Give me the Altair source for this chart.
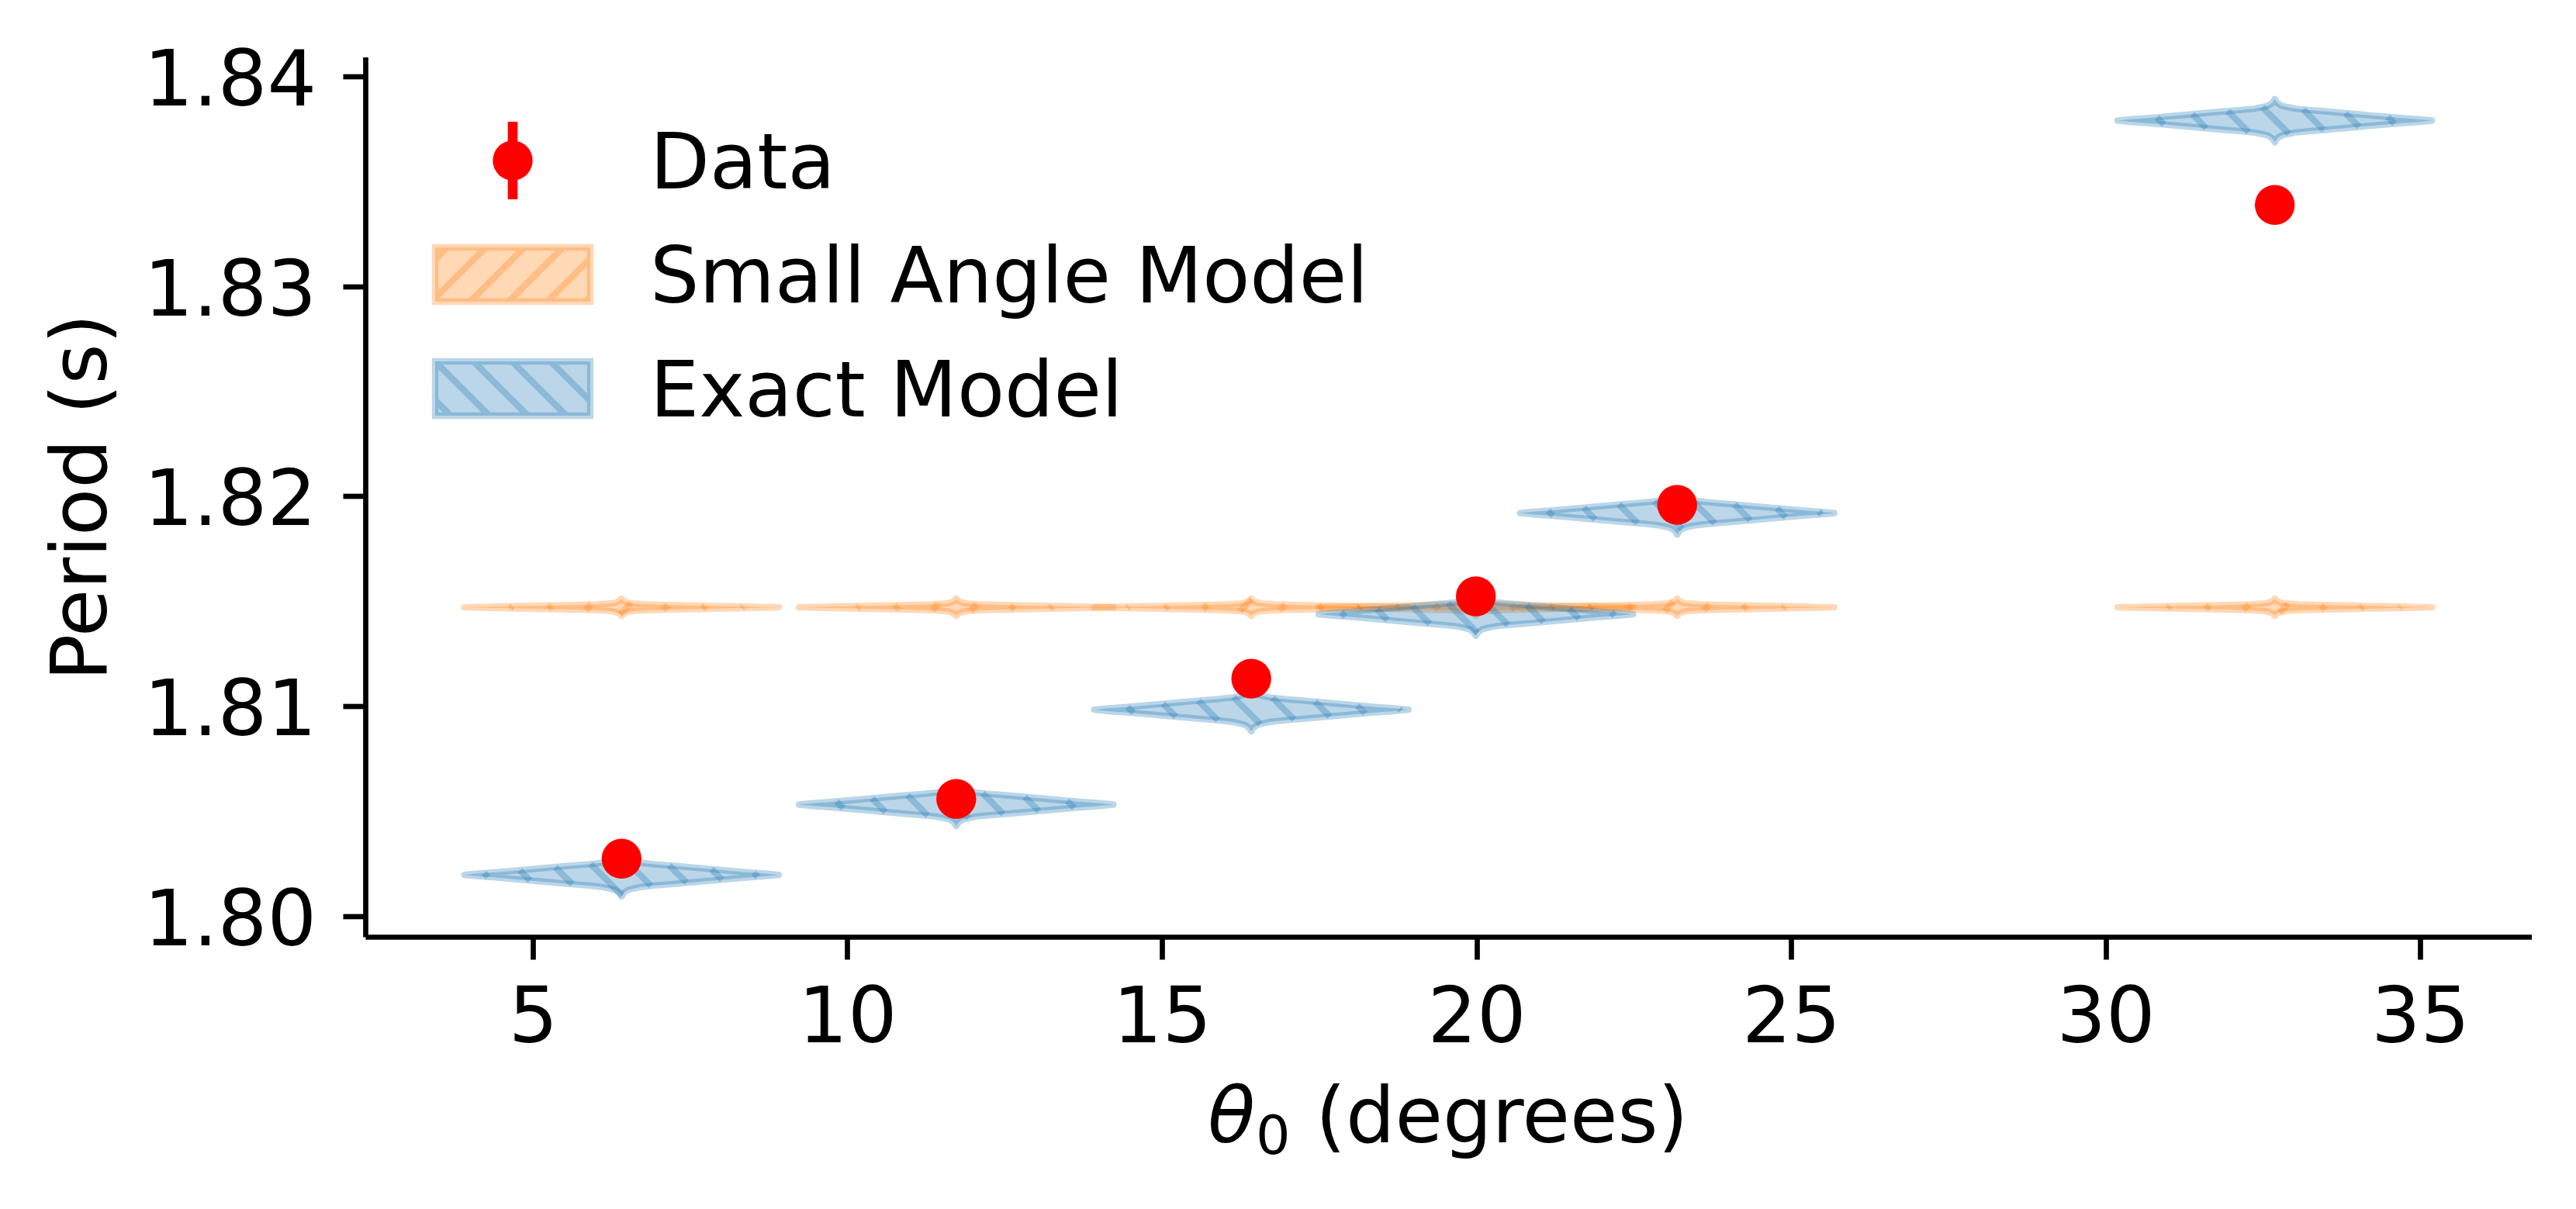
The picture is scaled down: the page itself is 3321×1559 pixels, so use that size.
import altair as alt
import pandas as pd
import numpy as np

# ---------------- data ----------------
theta_deg = [6.41, 11.73, 16.42, 19.99, 23.19, 32.69]
period_data = [1.80273, 1.80558, 1.81131, 1.81523, 1.81959, 1.83388]
exact_center = [1.80196, 1.80531, 1.80983, 1.81438, 1.81920, 1.83790]
small_center = [1.81471, 1.81471, 1.81471, 1.81471, 1.81471, 1.81471]
violin_half_width = 2.5  # degrees (violin width 5)

# violin outlines: horizontal offset (fraction of half-width) -> half-height (s)
exact_prof_dx = [0.0, 0.015, 0.04, 0.075, 0.13, 0.22, 0.345, 0.565, 0.79, 0.91, 1.0]
exact_prof_h = [0.00103, 0.00085, 0.00072, 0.00065, 0.00057, 0.00050, 0.000425,
                0.000277, 0.000129, 0.000067, 0.0]
small_prof_dx = [0.0, 0.015, 0.04, 0.075, 0.15, 0.3, 0.54, 0.79, 1.0]
small_prof_h = [0.000407, 0.000300, 0.000215, 0.000180, 0.000140, 0.000110,
                0.000070, 0.000035, 0.0]

x_ticks = [5, 10, 15, 20, 25, 30, 35]
y_ticks = [1.80, 1.81, 1.82, 1.83, 1.84]
y_title = "Period (s)"
x_title_parts = ["θ", "0", "(degrees)"]
legend_labels = ["Data", "Small Angle Model", "Exact Model"]

# ---------------- layout ----------------
FONT = "DejaVu Sans"
W, H = 2792.5, 1134.5
XDOM = [2.337, 36.769]
YDOM = [1.79901, 1.84093]
X0, Y0 = 471.0, 73.5          # page position of plot origin
PX_DEG = W / (XDOM[1] - XDOM[0])
PX_S = H / (YDOM[1] - YDOM[0])
SP = 49.7                     # hatch spacing (px)
LW = 8.3                      # edge / hatch line width (px)
BLUE = "#1f77b4"
ORANGE = "#ff7f0e"

xs = alt.Scale(domain=XDOM, nice=False, zero=False)
ys = alt.Scale(domain=YDOM, nice=False, zero=False)

x_axis = alt.Axis(values=x_ticks, title=None, grid=False, format="d",
                  domainColor="black", domainWidth=6.7, tickColor="black",
                  tickWidth=6.7, tickSize=29, labelFont=FONT, labelFontSize=100,
                  labelColor="black", labelPadding=106, labelBaseline="alphabetic",
                  labelFlush=False, labelOverlap=False, labelBound=False,
                  labelLimit=1000)
y_axis = alt.Axis(values=y_ticks, title=y_title, grid=False, format=".2f",
                  domainColor="black", domainWidth=6.7, tickColor="black",
                  tickWidth=6.7, tickSize=29, labelFont=FONT, labelFontSize=100,
                  labelColor="black", labelPadding=34.4, labelBaseline="alphabetic",
                  labelOffset=37, labelFlush=False, labelOverlap=False,
                  labelLimit=1000, titleLimit=2000,
                  titleFont=FONT, titleFontSize=100, titleFontWeight="normal",
                  titleColor="black", titleX=-335, titleBaseline="alphabetic")


def violin_table(centers_x, centers_y, prof_dx, prof_h):
    rows = []
    for i, (cx, cy) in enumerate(zip(centers_x, centers_y)):
        pts = [(-d, h) for d, h in zip(prof_dx[::-1], prof_h[::-1]) if d > 0] + \
              list(zip(prof_dx, prof_h))
        for d, h in pts:
            rows.append({"vid": i, "x": cx + d * violin_half_width,
                         "lo": cy - h, "hi": cy + h})
    return pd.DataFrame(rows)


def hatch_table(centers_x, centers_y, prof_dx, prof_h, back, phase):
    hw = violin_half_width * PX_DEG
    dxp = np.array(prof_dx) * hw
    hp = np.array(prof_h) * PX_S

    def h(d):
        return np.interp(np.abs(d), dxp, hp, right=0.0)

    ts = np.linspace(0, 60, 6001)
    rows = []
    for cx, cy in zip(centers_x, centers_y):
        Xc = X0 + (cx - XDOM[0]) * PX_DEG
        Yc = Y0 + (YDOM[1] - cy) * PX_S
        base = (Yc + phase) if back else (phase - Yc)
        k0 = int(np.floor((Xc - hw - base) / SP)) - 1
        k1 = int(np.ceil((Xc + hw - base) / SP)) + 1
        for k in range(k0, k1 + 1):
            Xl = base + SP * k
            if abs(Xl - Xc) >= hw:
                continue
            if back:
                t_up = ts[np.argmax(ts - h(Xl - ts - Xc) >= 0)]
                t_dn = ts[np.argmax(ts - h(Xl + ts - Xc) >= 0)]
                P1 = (Xl - t_up, Yc - t_up)
                P2 = (Xl + t_dn, Yc + t_dn)
            else:
                t_up = ts[np.argmax(ts - h(Xl + ts - Xc) >= 0)]
                t_dn = ts[np.argmax(ts - h(Xl - ts - Xc) >= 0)]
                P1 = (Xl + t_up, Yc - t_up)
                P2 = (Xl - t_dn, Yc + t_dn)
            if t_up + t_dn < 1.5:
                continue
            rows.append({
                "x": XDOM[0] + (P1[0] - X0) / PX_DEG,
                "y": YDOM[1] - (P1[1] - Y0) / PX_S,
                "x2": XDOM[0] + (P2[0] - X0) / PX_DEG,
                "y2": YDOM[1] - (P2[1] - Y0) / PX_S,
            })
    return pd.DataFrame(rows)


def patch_path(Xp, Yp, back, phase):
    s, hy = 100.0, 0.35
    parts = ["M-1,-0.35L1,-0.35L1,0.35L-1,0.35Z"]
    ref = (Xp - Yp) if back else (Xp + Yp)
    kc = int(round((ref - phase) / SP))
    for k in range(kc - 8, kc + 9):
        c = (phase + SP * k - ref) / s
        if back:
            v0, v1 = max(-hy, -1 - c), min(hy, 1 - c)
            if v1 - v0 > 0.02:
                parts.append("M%.4f,%.4fL%.4f,%.4f" % (c + v0, v0, c + v1, v1))
        else:
            v0, v1 = max(-hy, c - 1), min(hy, c + 1)
            if v1 - v0 > 0.02:
                parts.append("M%.4f,%.4fL%.4f,%.4f" % (c - v0, v0, c - v1, v1))
    return "".join(parts)


small_df = violin_table(theta_deg, small_center, small_prof_dx, small_prof_h)
exact_df = violin_table(theta_deg, exact_center, exact_prof_dx, exact_prof_h)
small_hatch = hatch_table(theta_deg, small_center, small_prof_dx, small_prof_h, False, 1.0)
exact_hatch = hatch_table(theta_deg, exact_center, exact_prof_dx, exact_prof_h, True, 45.0)
points_df = pd.DataFrame({"x": theta_deg, "y": period_data})


def violin_layer(df, color):
    return alt.Chart(df).mark_area(
        fill=color, fillOpacity=0.3, stroke=color, strokeOpacity=0.3,
        strokeWidth=LW, strokeJoin="round", opacity=1
    ).encode(
        x=alt.X("x:Q", scale=xs, axis=x_axis),
        y=alt.Y("lo:Q", scale=ys, axis=y_axis),
        y2="hi:Q",
        detail="vid:N",
    )


def hatch_layer(df, color):
    return alt.Chart(df).mark_rule(
        color=color, opacity=0.3, strokeWidth=LW, strokeCap="butt"
    ).encode(
        x=alt.X("x:Q", scale=xs, axis=x_axis),
        y=alt.Y("y:Q", scale=ys, axis=y_axis),
        x2="x2:Q", y2="y2:Q",
    )


points = alt.Chart(points_df).mark_circle(
    color="#ff0000", size=2642, opacity=1
).encode(
    x=alt.X("x:Q", scale=xs, axis=x_axis),
    y=alt.Y("y:Q", scale=ys, axis=y_axis),
)

# ---------------- legend (drawn in pixel space) ----------------
one = pd.DataFrame({"k": [0]})
leg_bar = alt.Chart(one).mark_rule(color="#ff0000", strokeWidth=12.7).encode(
    x=alt.value(190), y=alt.value(83.5), y2=alt.value(183.5))
leg_dot = alt.Chart(one).mark_circle(color="#ff0000", size=2642, opacity=1).encode(
    x=alt.value(190), y=alt.value(133.5))
leg_small = alt.Chart(one).mark_point(
    shape=patch_path(661, 354, False, 1.0), size=40000, filled=True,
    fill=ORANGE, fillOpacity=0.3, stroke=ORANGE, strokeOpacity=0.3,
    strokeWidth=LW, opacity=1
).encode(x=alt.value(190), y=alt.value(280.5))
leg_exact = alt.Chart(one).mark_point(
    shape=patch_path(661, 501, True, 45.0), size=40000, filled=True,
    fill=BLUE, fillOpacity=0.3, stroke=BLUE, strokeOpacity=0.3,
    strokeWidth=LW, opacity=1
).encode(x=alt.value(190), y=alt.value(427.5))

leg_text = []
for lab, yb in zip(legend_labels, [169.5, 316.5, 463.5]):
    leg_text.append(
        alt.Chart(pd.DataFrame({"t": [lab]})).mark_text(
            font=FONT, fontSize=100, align="left", baseline="alphabetic",
            color="black"
        ).encode(x=alt.value(367), y=alt.value(yb), text="t:N")
    )

# x-axis title with italic theta and subscript 0
xt = [
    alt.Chart(pd.DataFrame({"t": [x_title_parts[0]]})).mark_text(
        font=FONT, fontSize=100, fontStyle="italic", align="left",
        baseline="alphabetic", color="black"
    ).encode(x=alt.value(1086), y=alt.value(1399.5), text="t:N"),
    alt.Chart(pd.DataFrame({"t": [x_title_parts[1]]})).mark_text(
        font=FONT, fontSize=70, align="left", baseline="alphabetic", color="black"
    ).encode(x=alt.value(1148), y=alt.value(1414.5), text="t:N"),
    alt.Chart(pd.DataFrame({"t": [x_title_parts[2]]})).mark_text(
        font=FONT, fontSize=100, align="left", baseline="alphabetic", color="black"
    ).encode(x=alt.value(1225), y=alt.value(1399.5), text="t:N"),
]

chart = alt.layer(
    violin_layer(small_df, ORANGE),
    hatch_layer(small_hatch, ORANGE),
    violin_layer(exact_df, BLUE),
    hatch_layer(exact_hatch, BLUE),
    points,
    leg_bar, leg_dot, leg_small, leg_exact,
    *leg_text, *xt,
).properties(
    width=W, height=H,
    padding={"left": 463, "top": 65.5, "right": 47, "bottom": 340},
    autosize=alt.AutoSizeParams(type="none"),
    background="white",
).configure_view(stroke=None)

chart.save("out.html", embed_options={"renderer": "svg", "actions": False})
